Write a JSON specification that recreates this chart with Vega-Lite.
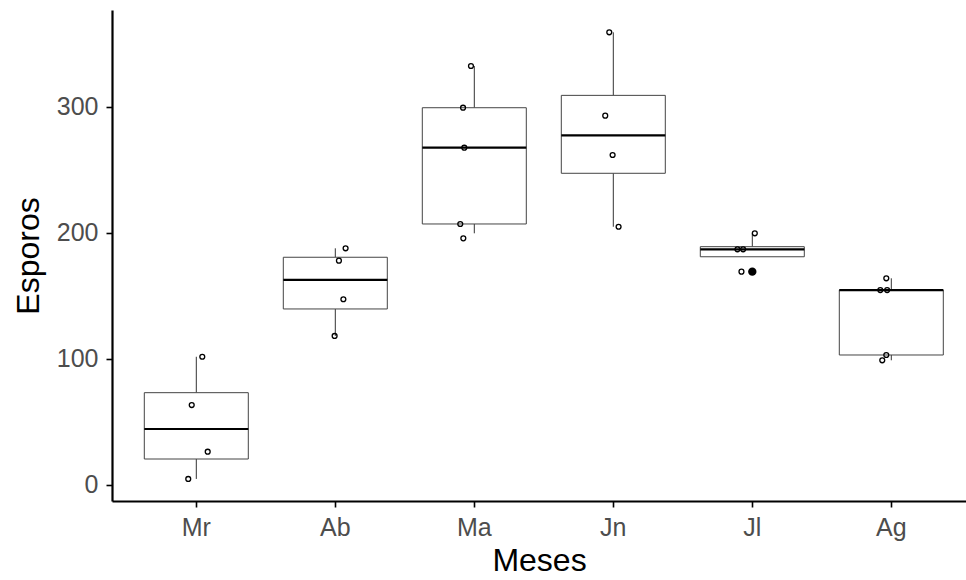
{
  "$schema": "https://vega.github.io/schema/vega-lite/v6.json",
  "width": 854,
  "height": 491,
  "autosize": {"type": "none"},
  "padding": {"left": 112, "top": 10, "right": 0, "bottom": 79},
  "background": "white",
  "config": {
    "view": {"stroke": null},
    "font": "Liberation Sans",
    "axis": {
      "grid": false,
      "domainColor": "black",
      "domainWidth": 2.2,
      "tickColor": "black",
      "tickWidth": 1.6,
      "tickSize": 6,
      "labelColor": "#4d4d4d",
      "labelFontSize": 25,
      "labelFont": "Liberation Sans",
      "titleFont": "Liberation Sans",
      "titleFontSize": 32,
      "titleFontWeight": "normal",
      "titleColor": "black"
    }
  },
  "datasets": {
    "stats": [
      {"mes": "Mr", "lower": 4.8, "q1": 20.6, "median": 44.4, "q3": 73.2, "upper": 101.7},
      {"mes": "Ab", "lower": 118.2, "q1": 139.6, "median": 162.6, "q3": 180.6, "upper": 187.7},
      {"mes": "Ma", "lower": 199.6, "q1": 207.0, "median": 267.5, "q3": 299.2, "upper": 332.3},
      {"mes": "Jn", "lower": 204.8, "q1": 247.2, "median": 277.3, "q3": 309.0, "upper": 359.0},
      {"mes": "Jl", "lower": 181.0, "q1": 181.0, "median": 186.9, "q3": 189.0, "upper": 199.6},
      {"mes": "Ag", "lower": 98.9, "q1": 103.1, "median": 154.6, "q3": 154.6, "upper": 163.9}
    ],
    "pts": [
      {"mes": "Mr", "esporos": 101.7, "jit": 0.043},
      {"mes": "Mr", "esporos": 63.4, "jit": -0.033},
      {"mes": "Mr", "esporos": 26.4, "jit": 0.082},
      {"mes": "Mr", "esporos": 4.8, "jit": -0.058},
      {"mes": "Ab", "esporos": 187.7, "jit": 0.074},
      {"mes": "Ab", "esporos": 177.9, "jit": 0.026},
      {"mes": "Ab", "esporos": 147.3, "jit": 0.058},
      {"mes": "Ab", "esporos": 118.2, "jit": -0.005},
      {"mes": "Ma", "esporos": 332.3, "jit": -0.024},
      {"mes": "Ma", "esporos": 299.2, "jit": -0.081},
      {"mes": "Ma", "esporos": 267.5, "jit": -0.072},
      {"mes": "Ma", "esporos": 207.0, "jit": -0.101},
      {"mes": "Ma", "esporos": 195.6, "jit": -0.079},
      {"mes": "Jn", "esporos": 359.0, "jit": -0.029},
      {"mes": "Jn", "esporos": 292.9, "jit": -0.058},
      {"mes": "Jn", "esporos": 261.7, "jit": -0.005},
      {"mes": "Jn", "esporos": 204.8, "jit": 0.038},
      {"mes": "Jl", "esporos": 199.6, "jit": 0.018},
      {"mes": "Jl", "esporos": 186.9, "jit": -0.107},
      {"mes": "Jl", "esporos": 186.9, "jit": -0.066},
      {"mes": "Jl", "esporos": 169.2, "jit": -0.078},
      {"mes": "Ag", "esporos": 163.9, "jit": -0.036},
      {"mes": "Ag", "esporos": 154.6, "jit": -0.079},
      {"mes": "Ag", "esporos": 154.6, "jit": -0.03},
      {"mes": "Ag", "esporos": 103.1, "jit": -0.036},
      {"mes": "Ag", "esporos": 98.9, "jit": -0.065}
    ],
    "out": [
      {"mes": "Jl", "esporos": 169.2}
    ]
  },
  "encoding": {
    "x": {
      "field": "mes",
      "type": "nominal",
      "sort": ["Mr", "Ab", "Ma", "Jn", "Jl", "Ag"],
      "scale": {"domain": ["Mr", "Ab", "Ma", "Jn", "Jl", "Ag"], "paddingInner": 0, "paddingOuter": 0.072, "align": 0.74},
      "axis": {"title": "Meses", "labelAngle": 0, "labelPadding": 8, "titlePadding": 5}
    }
  },
  "layer": [
    {
      "data": {"name": "stats"},
      "mark": {"type": "rule", "color": "#333333", "strokeWidth": 1},
      "encoding": {
        "y": {"field": "lower", "type": "quantitative", "scale": {"domain": [-12.7, 376.7], "nice": false, "zero": false}, "axis": {"title": "Esporos", "values": [0, 100, 200, 300], "labelPadding": 8, "titlePadding": 11}},
        "y2": {"field": "q1"}
      }
    },
    {
      "data": {"name": "stats"},
      "mark": {"type": "rule", "color": "#333333", "strokeWidth": 1},
      "encoding": {
        "y": {"field": "q3", "type": "quantitative"},
        "y2": {"field": "upper"}
      }
    },
    {
      "data": {"name": "stats"},
      "mark": {"type": "bar", "width": 104, "fill": "white", "stroke": "#444444", "strokeWidth": 1},
      "encoding": {
        "y": {"field": "q1", "type": "quantitative"},
        "y2": {"field": "q3"}
      }
    },
    {
      "data": {"name": "stats"},
      "mark": {"type": "bar", "width": 104, "fill": "black", "stroke": "black", "strokeWidth": 2.2},
      "encoding": {
        "y": {"field": "median", "type": "quantitative"},
        "y2": {"field": "median"}
      }
    },
    {
      "data": {"name": "out"},
      "mark": {"type": "point", "shape": "circle", "filled": true, "color": "black", "size": 70, "opacity": 1},
      "encoding": {
        "y": {"field": "esporos", "type": "quantitative"}
      }
    },
    {
      "data": {"name": "pts"},
      "mark": {"type": "point", "shape": "circle", "filled": false, "stroke": "black", "strokeWidth": 1.3, "size": 24, "opacity": 1},
      "encoding": {
        "y": {"field": "esporos", "type": "quantitative"},
        "xOffset": {"field": "jit", "type": "quantitative", "scale": {"domain": [-0.5, 0.5]}}
      }
    }
  ]
}
